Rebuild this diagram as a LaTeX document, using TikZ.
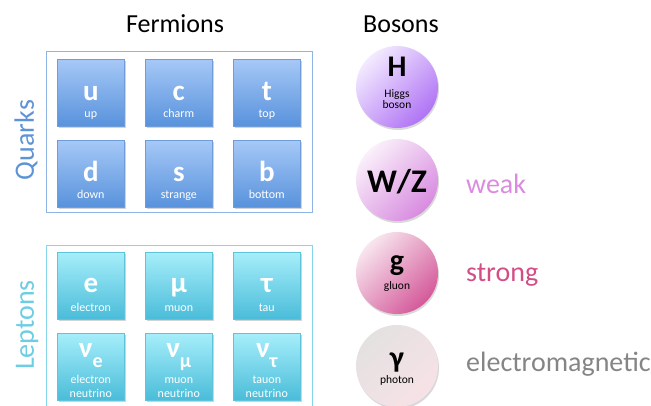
\documentclass[tikz,border=0pt]{standalone}
\usepackage{fontspec}
\setmainfont{Carlito}
\usetikzlibrary{shadows}
\definecolor{qtop}{HTML}{A6C8F7}
\definecolor{qbot}{HTML}{5892DC}
\definecolor{qborder}{HTML}{6E9DD9}
\definecolor{qbox}{HTML}{8EB4E3}
\definecolor{qtext}{HTML}{5E93D6}
\definecolor{ltop}{HTML}{A6EEFA}
\definecolor{lbot}{HTML}{4ABCD9}
\definecolor{lborder}{HTML}{5EC4DC}
\definecolor{lbox}{HTML}{86D6EA}
\definecolor{ltext}{HTML}{6CCDE3}
\definecolor{hlight}{HTML}{F3EBFF}
\definecolor{hdark}{HTML}{B073F5}
\definecolor{wlight}{HTML}{FAF0FA}
\definecolor{wdark}{HTML}{D88BE0}
\definecolor{glight}{HTML}{F8E6EF}
\definecolor{gdark}{HTML}{D4599A}
\definecolor{plight}{HTML}{E4E1E1}
\definecolor{pdark}{HTML}{F7E2E6}
\definecolor{weakc}{HTML}{DB8BDF}
\definecolor{strongc}{HTML}{D24E85}
\definecolor{emc}{HTML}{858585}
\tikzset{
  sqshadow/.style={drop shadow={opacity=0.35,shadow xshift=1.2pt,shadow yshift=-1.5pt}},
  qsq/.style={draw=qborder,line width=0.6pt,top color=qtop,bottom color=qbot,
    minimum size=67pt,inner sep=0pt,anchor=north west,sqshadow},
  lsq/.style={draw=lborder,line width=0.6pt,top color=ltop,bottom color=lbot,
    minimum size=67pt,inner sep=0pt,anchor=north west,sqshadow},
  bigw/.style={text=white,font=\fontsize{29}{29}\selectfont\bfseries,inner sep=0pt,anchor=base},
  smallw/.style={text=white,font=\fontsize{12}{12}\selectfont,inner sep=0pt,anchor=base},
  boson/.style={circle,minimum size=82pt,inner sep=0pt,
    drop shadow={opacity=0.3,shadow xshift=1pt,shadow yshift=-2pt}},
  bigk/.style={text=black,font=\fontsize{30}{30}\selectfont\bfseries,inner sep=0pt,anchor=base},
  smallk/.style={text=black,font=\fontsize{11.5}{11.5}\selectfont,inner sep=0pt,anchor=base},
  title/.style={font=\fontsize{26}{26}\selectfont,inner sep=0pt,anchor=base},
  force/.style={font=\fontsize{28}{28}\selectfont,inner sep=0pt,anchor=base west},
}
\begin{document}
\begin{tikzpicture}[x=1pt,y=-1pt]
\useasboundingbox (0,0) rectangle (651,405);
\clip (0,0) rectangle (651,405);
% titles
\node[title] (fermions) at (175,32) {Fermions};
\node[title] (bosons) at (401,32) {Bosons};
% group boxes
\node[draw=qbox,line width=0.9pt,minimum width=266pt,minimum height=161pt,anchor=north west,inner sep=0pt] (qgroup) at (46,51) {};
\node[draw=lbox,line width=0.9pt,minimum width=266pt,minimum height=165pt,anchor=north west,inner sep=0pt] (lgroup) at (46,245) {};
\node[rotate=90,text=qtext,font=\fontsize{28}{28}\selectfont,inner sep=0pt,anchor=base] (quarks) at (34,140) {Quarks};
\node[rotate=90,text=ltext,font=\fontsize{28}{28}\selectfont,inner sep=0pt,anchor=base] (leptons) at (34,325) {Leptons};
% quarks
\node[qsq] (u) at (57,59) {};
\node[qsq] (c) at (145,59) {};
\node[qsq] (t) at (233,59) {};
\node[qsq] (d) at (57,140) {};
\node[qsq] (s) at (145,140) {};
\node[qsq] (b) at (233,140) {};
\foreach \n/\l/\w in {u/u/up,c/c/charm,t/t/top,d/d/down,s/s/strange,b/b/bottom}{
  \node[bigw] (\n-sym) at ([yshift=-41pt]\n.north) {\l};
  \node[smallw] (\n-name) at ([yshift=-58pt]\n.north) {\w};
}
% leptons
\node[lsq] (e) at (57,252) {};
\node[lsq] (mu) at (145,252) {};
\node[lsq] (tau) at (233,252) {};
\node[lsq] (ve) at (57,333) {};
\node[lsq] (vm) at (145,333) {};
\node[lsq] (vt) at (233,333) {};
\foreach \n/\l/\w in {e/e/electron,mu/μ/muon,tau/τ/tau}{
  \node[bigw] (\n-sym) at ([yshift=-40pt]\n.north) {\l};
  \node[smallw] (\n-name) at ([yshift=-59pt]\n.north) {\w};
}
\foreach \n/\l/\w in {ve/e/electron,vm/μ/muon,vt/τ/tauon}{
  \node[bigw] (\n-sym) at ([yshift=-24pt]\n.north) {ν\raisebox{-10pt}{\fontsize{20}{20}\selectfont\l}};
  \node[smallw] (\n-name) at ([yshift=-50pt]\n.north) {\w};
  \node[smallw] (\n-name2) at ([yshift=-64pt]\n.north) {neutrino};
}
% bosons
\node[boson,top color=hlight,bottom color=hdark,shading angle=45] (H) at (397,87) {};
\node[boson,top color=wlight,bottom color=wdark,shading angle=45] (WZ) at (397,180) {};
\node[boson,top color=glight,bottom color=gdark,shading angle=45] (g) at (397,273) {};
\node[boson,top color=plight,bottom color=pdark,shading angle=45] (ph) at (397,366) {};
\node[bigk] (H-sym) at ([yshift=11pt]H.center) {H};
\node[smallk] (H-name) at ([yshift=-10pt]H.center) {Higgs};
\node[smallk] (H-name2) at ([yshift=-21pt]H.center) {boson};
\node[bigk,font=\fontsize{33}{33}\selectfont\bfseries] (WZ-sym) at ([yshift=-12pt]WZ.center) {W/Z};
\node[bigk] (g-sym) at ([yshift=3pt]g.center) {g};
\node[smallk] (g-name) at ([yshift=-16pt]g.center) {gluon};
\node[bigk] (ph-sym) at ([yshift=-1pt]ph.center) {γ};
\node[smallk] (ph-name) at ([yshift=-17pt]ph.center) {photon};
% forces
\node[force,text=weakc] (weak) at (466,193) {weak};
\node[force,text=strongc] (strong) at (466,281) {strong};
\node[force,text=emc] (em) at (466,371) {electromagnetic};
\end{tikzpicture}
\end{document}
